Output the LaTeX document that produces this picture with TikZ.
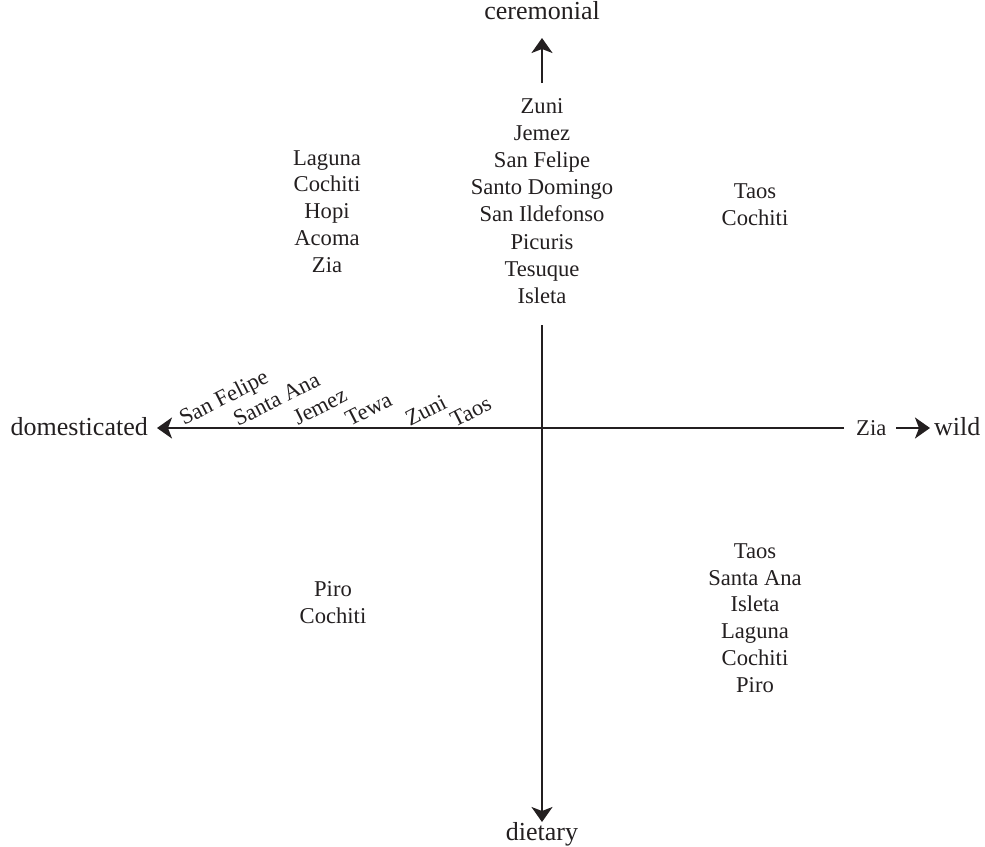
\documentclass[tikz,border=0pt]{standalone}
\usepackage{fontspec}
\setmainfont{Liberation Serif}
\usetikzlibrary{arrows.meta}
\definecolor{ink}{HTML}{231F20}
\tikzset{
  axisline/.style={line width=2pt, draw=ink},
  tipped/.style={-{Stealth[length=15pt,width=21pt,inset=4pt]}},
  axislabel/.style={inner sep=0pt, font=\fontsize{26}{30}\selectfont, text=ink},
  listtext/.style={inner sep=0pt, anchor=base, font=\fontsize{22.6}{27}\selectfont, text=ink},
  slanted/.style={inner sep=0pt, anchor=base west, rotate=27, font=\fontsize{22.6}{27}\selectfont, text=ink}
}
\begin{document}
\begin{tikzpicture}[x=1pt,y=-1pt]
\useasboundingbox (0,0) rectangle (985,846);
% axis labels
\node[axislabel, anchor=base] (cer) at (542,19) {ceremonial};
\node[axislabel, anchor=base] (diet) at (542,840) {dietary};
\node[axislabel, anchor=base east] (dom) at (148,435) {domesticated};
\node[axislabel, anchor=base west] (wild) at (934,435) {wild};
\node[listtext, anchor=base west] (zia) at (856,435) {Zia};
% coordinates for connectors
\coordinate (vtop) at (542,325);
\coordinate (vbot) at (542,822);
\coordinate (atop0) at (542,83);
\coordinate (atop1) at (542,38);
\coordinate (hleft) at (157,428);
\coordinate (hright) at (844,428);
\coordinate (wa0) at (896,428);
\coordinate (wa1) at (930,428);
% axes
\draw[axisline, tipped] (vtop) -- (vbot);
\draw[axisline, tipped] (atop0) -- (atop1);
\draw[axisline, tipped] (hright) -- (hleft);
\draw[axisline, tipped] (wa0) -- (wa1);
% lists
\foreach \t [count=\i] in {Zuni,Jemez,San Felipe,Santo Domingo,San Ildefonso,Picuris,Tesuque,Isleta}
  \node[listtext] (c\i) at (542,113.5+27.1*\i-27.1) {\t};
\foreach \t [count=\i] in {Laguna,Cochiti,Hopi,Acoma,Zia}
  \node[listtext] (ul\i) at (327,165+26.8*\i-26.8) {\t};
\foreach \t [count=\i] in {Taos,Cochiti}
  \node[listtext] (ur\i) at (755,198.3+26.8*\i-26.8) {\t};
\foreach \t [count=\i] in {Taos,Santa Ana,Isleta,Laguna,Cochiti,Piro}
  \node[listtext] (lr\i) at (755,558.3+26.8*\i-26.8) {\t};
\foreach \t [count=\i] in {Piro,Cochiti}
  \node[listtext] (ll\i) at (333,596.7+26.8*\i-26.8) {\t};
% slanted labels along the domesticated axis
\node[slanted] (s1) at (184,426) {San Felipe};
\node[slanted] (s2) at (238,427) {Santa Ana};
\node[slanted] (s3) at (298,426) {Jemez};
\node[slanted] (s4) at (350,427) {Tewa};
\node[slanted] (s5) at (410,427) {Zuni};
\node[slanted] (s6) at (455,428) {Taos};
\end{tikzpicture}
\end{document}
